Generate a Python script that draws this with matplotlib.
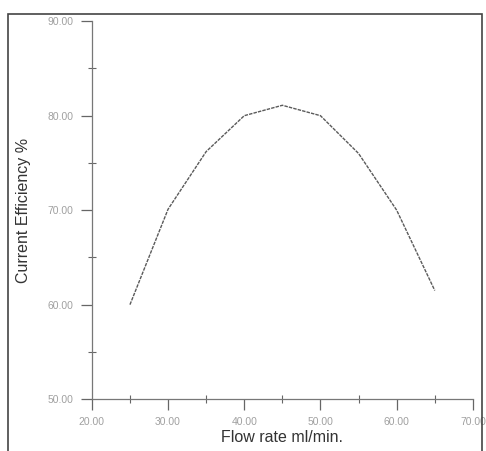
import numpy as np
import matplotlib.pyplot as plt
from matplotlib.ticker import MultipleLocator, FormatStrFormatter
from matplotlib.patches import Rectangle

# Values
flow_rate = [25, 30, 35, 40, 45, 50, 55, 60, 65]
efficiency = [60.0, 70.1, 76.2, 80.0, 81.1, 80.0, 76.0, 70.0, 61.5]

x_ticks = [20, 30, 40, 50, 60, 70]
y_ticks = [50, 60, 70, 80, 90]

plt.rcParams['font.family'] = ['Liberation Sans', 'DejaVu Sans']

fig = plt.figure(figsize=(4.86, 4.51), dpi=100)
ax = fig.add_axes([0.189, 0.115, 0.784, 0.838])

ax.plot(flow_rate, efficiency, color='#5a5a5a', linewidth=1.0,
        linestyle=(0, (2.5, 0.8)))

ax.set_xlim(20, 70)
ax.set_ylim(50, 90)
ax.set_xticks(x_ticks)
ax.set_yticks(y_ticks)
ax.xaxis.set_minor_locator(MultipleLocator(5))
ax.yaxis.set_minor_locator(MultipleLocator(5))
ax.xaxis.set_major_formatter(FormatStrFormatter('%.2f'))
ax.yaxis.set_major_formatter(FormatStrFormatter('%.2f'))

for side in ['top', 'right']:
    ax.spines[side].set_visible(False)
for side in ['left', 'bottom']:
    ax.spines[side].set_color('#777777')
    ax.spines[side].set_linewidth(0.9)

ax.tick_params(which='major', direction='out', length=8, width=0.9,
               color='#666666', labelsize=7.5, labelcolor='#a0a0a0', pad=5)
ax.tick_params(which='minor', direction='inout', length=6, width=0.8,
               color='#666666')

ax.set_xlabel('Flow rate ml/min.', fontsize=11.5, color='#333333', labelpad=2)
ax.set_ylabel('Current Efficiency %', fontsize=11.5, color='#333333', labelpad=12)

# outer frame of the scanned figure
fig.patches.append(Rectangle((0.017, -0.01), 0.975, 0.98, transform=fig.transFigure,
                             fill=False, edgecolor='#444444', linewidth=1.2))

fig.savefig('out.png', dpi=100)
